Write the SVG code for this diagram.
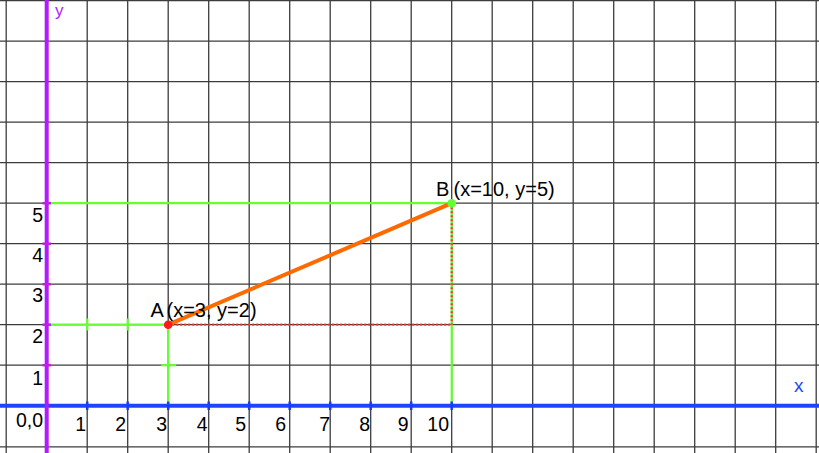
<svg xmlns="http://www.w3.org/2000/svg" width="819" height="453" viewBox="0 0 819 453">
<style>
.grid line{stroke:#3c3c3c;stroke-width:1.3}
.t{font-family:"Liberation Sans",Arial,sans-serif;font-size:19.5px;fill:#000}
.lb{font-family:"Liberation Sans",Arial,sans-serif;font-size:20px;fill:#000}
.xn{text-anchor:end}
.yn{text-anchor:end}
.gr{stroke:#66ff33;stroke-width:2.2;fill:none}
.rd{stroke:#ff3333;stroke-width:2.2;stroke-dasharray:2 2;fill:none}
.xt{stroke:#1d3cf0;stroke-width:2.5}
.yt{stroke:#c020e0;stroke-width:2.5}
</style>
<rect width="819" height="453" fill="#fff"/>
<g id="grid" class="grid">
<line x1="6.2" y1="0" x2="6.2" y2="453"/>
<line x1="87.2" y1="0" x2="87.2" y2="453"/>
<line x1="127.7" y1="0" x2="127.7" y2="453"/>
<line x1="168.2" y1="0" x2="168.2" y2="453"/>
<line x1="208.7" y1="0" x2="208.7" y2="453"/>
<line x1="249.2" y1="0" x2="249.2" y2="453"/>
<line x1="289.7" y1="0" x2="289.7" y2="453"/>
<line x1="330.2" y1="0" x2="330.2" y2="453"/>
<line x1="370.7" y1="0" x2="370.7" y2="453"/>
<line x1="411.2" y1="0" x2="411.2" y2="453"/>
<line x1="451.7" y1="0" x2="451.7" y2="453"/>
<line x1="492.2" y1="0" x2="492.2" y2="453"/>
<line x1="532.7" y1="0" x2="532.7" y2="453"/>
<line x1="573.2" y1="0" x2="573.2" y2="453"/>
<line x1="613.7" y1="0" x2="613.7" y2="453"/>
<line x1="654.2" y1="0" x2="654.2" y2="453"/>
<line x1="694.7" y1="0" x2="694.7" y2="453"/>
<line x1="735.2" y1="0" x2="735.2" y2="453"/>
<line x1="775.7" y1="0" x2="775.7" y2="453"/>
<line x1="816.2" y1="0" x2="816.2" y2="453"/>
<line x1="0" y1="0.7" x2="819" y2="0.7"/>
<line x1="0" y1="41.2" x2="819" y2="41.2"/>
<line x1="0" y1="81.7" x2="819" y2="81.7"/>
<line x1="0" y1="122.2" x2="819" y2="122.2"/>
<line x1="0" y1="162.7" x2="819" y2="162.7"/>
<line x1="0" y1="203.2" x2="819" y2="203.2"/>
<line x1="0" y1="243.7" x2="819" y2="243.7"/>
<line x1="0" y1="284.2" x2="819" y2="284.2"/>
<line x1="0" y1="324.7" x2="819" y2="324.7"/>
<line x1="0" y1="365.2" x2="819" y2="365.2"/>
<line x1="0" y1="446.9" x2="819" y2="446.9"/>
</g>
<g id="connectors">
<line class="gr" x1="46.7" y1="203.2" x2="451.7" y2="203.2"/>
<line class="gr" x1="451.7" y1="203.2" x2="451.7" y2="405.7"/>
<line class="rd" x1="451.7" y1="203.2" x2="451.7" y2="324.7"/>
<line class="gr" x1="46.7" y1="324.7" x2="168.2" y2="324.7"/>
<line class="gr" x1="168.2" y1="324.7" x2="168.2" y2="405.7"/>
<line class="rd" x1="168.2" y1="324.7" x2="451.7" y2="324.7"/>
<line class="gr" x1="87.2" y1="318.5" x2="87.2" y2="330.5"/>
<line class="gr" x1="127.7" y1="318.5" x2="127.7" y2="330.5"/>
<line class="gr" x1="161.2" y1="365.2" x2="176.2" y2="365.2"/>
<line x1="168.2" y1="324.7" x2="451.7" y2="203.2" stroke="#ff6a00" stroke-width="4"/>
</g>
<g id="x-axis">
<line x1="0" y1="405.7" x2="819" y2="405.7" stroke="#1f44ff" stroke-width="4"/>
<g class="xt">
<line x1="87.2" y1="401.5" x2="87.2" y2="410"/>
<line x1="127.7" y1="401.5" x2="127.7" y2="410"/>
<line x1="168.2" y1="401.5" x2="168.2" y2="410"/>
<line x1="208.7" y1="401.5" x2="208.7" y2="410"/>
<line x1="249.2" y1="401.5" x2="249.2" y2="410"/>
<line x1="289.7" y1="401.5" x2="289.7" y2="410"/>
<line x1="330.2" y1="401.5" x2="330.2" y2="410"/>
<line x1="370.7" y1="401.5" x2="370.7" y2="410"/>
<line x1="411.2" y1="401.5" x2="411.2" y2="410"/>
<line x1="451.7" y1="401.5" x2="451.7" y2="410"/>
</g>
<text x="794" y="391.5" font-family="Liberation Sans, Arial, sans-serif" font-size="19" fill="#1f44ff">x</text>
</g>
<g id="y-axis">
<line x1="46.7" y1="0" x2="46.7" y2="453" stroke="#b31aff" stroke-width="4"/>
<g class="yt">
<line x1="42.5" y1="203.2" x2="51" y2="203.2"/>
<line x1="42.5" y1="243.7" x2="51" y2="243.7"/>
<line x1="42.5" y1="284.2" x2="51" y2="284.2"/>
<line x1="42.5" y1="324.7" x2="51" y2="324.7"/>
<line x1="42.5" y1="365.2" x2="51" y2="365.2"/>
</g>
<text x="55" y="16" font-family="Liberation Sans, Arial, sans-serif" font-size="17" fill="#b31aff">y</text>
</g>
<g id="x-numbers" class="t xn">
<text x="43" y="427">0,0</text>
<text x="86" y="431">1</text>
<text x="126" y="431">2</text>
<text x="167" y="431">3</text>
<text x="207.5" y="431">4</text>
<text x="246" y="431">5</text>
<text x="286" y="431">6</text>
<text x="330" y="431">7</text>
<text x="370" y="431">8</text>
<text x="408.5" y="431">9</text>
<text x="449" y="431">10</text>
</g>
<g id="y-numbers" class="t yn">
<text x="43" y="222">5</text>
<text x="43" y="262">4</text>
<text x="43" y="302">3</text>
<text x="43" y="343">2</text>
<text x="43" y="385">1</text>
</g>
<g id="pointA">
<circle cx="168.2" cy="324.7" r="4.3" fill="#ff1a1a"/>
<text class="lb" x="150.5" y="316.5">A</text>
<text class="lb" x="166.5" y="316.5">(x=3, y=2)</text>
</g>
<g id="pointB">
<circle cx="451.7" cy="203.2" r="4.3" fill="#66ff33"/>
<text class="lb" x="436" y="196">B</text>
<text class="lb" x="453.5" y="196">(x=10, y=5)</text>
</g>
</svg>
